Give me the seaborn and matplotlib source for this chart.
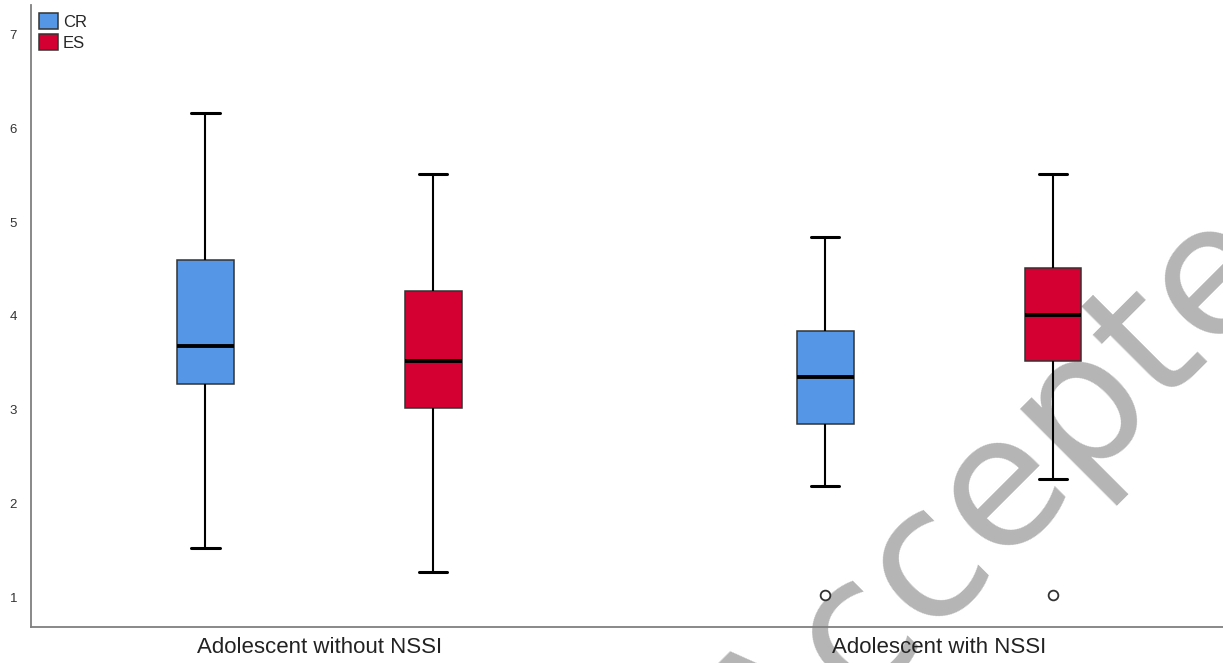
import numpy as np
import pandas as pd
import matplotlib.pyplot as plt
import seaborn as sns

# --- values (five-number summaries + outliers) ---
groups = ["Adolescent without NSSI", "Adolescent with NSSI"]
measures = ["CR", "ES"]

whisker_low = {"CR": [1.52, 2.19], "ES": [1.27, 2.26]}
q1          = {"CR": [3.27, 2.85], "ES": [3.02, 3.52]}
median      = {"CR": [3.68, 3.35], "ES": [3.52, 4.01]}
q3          = {"CR": [4.60, 3.84], "ES": [4.27, 4.51]}
whisker_hi  = {"CR": [6.17, 4.84], "ES": [5.52, 5.52]}
outliers    = {"CR": [[], [1.02]], "ES": [[], [1.02]]}

palette = {"CR": "#5596E6", "ES": "#D50032"}


def sample(lo, a, m, b, hi, out):
    # 9 points -> numpy quartiles land exactly on a, m, b
    pts = [lo, lo, a, a, m, b, b, hi, hi]
    if out:
        pts[0] = out[0]
    return pts


rows = []
for meas in measures:
    for i, g in enumerate(groups):
        vals = sample(whisker_low[meas][i], q1[meas][i], median[meas][i],
                      q3[meas][i], whisker_hi[meas][i], outliers[meas][i])
        rows += [{"group": g, "measure": meas, "score": v} for v in vals]
df = pd.DataFrame(rows)

sns.set_style("white")
plt.rcParams["font.family"] = ["Liberation Sans", "DejaVu Sans"]

fig = plt.figure(figsize=(12.23, 6.63), dpi=100)
ax = fig.add_axes([31 / 1223, 36 / 663, 1 - 31 / 1223, 622 / 663])

# watermark, drawn before the axes so the plot sits on top
fig.text(1037 / 1223, 1 - 460 / 663, "Accepted", fontsize=131, color="#b5b5b5",
         family="DejaVu Sans", rotation=45, rotation_mode="anchor",
         ha="center", va="center", zorder=-1)
ax.patch.set_alpha(0)

sns.boxplot(data=df, x="group", y="score", hue="measure", order=groups,
            hue_order=measures, palette=palette, saturation=1,
            width=0.735, gap=0.75, linecolor="#333333", linewidth=1.1,
            whiskerprops=dict(color="black", linewidth=1.5),
            capprops=dict(color="black", linewidth=2.2),
            medianprops=dict(color="black", linewidth=2.8),
            flierprops=dict(marker="o", markersize=7, markerfacecolor="white",
                            markeredgecolor="#333333", markeredgewidth=1.3),
            ax=ax)

ax.set_xlim(-0.465, 1.458)
ax.set_ylim(0.68, 7.32)
ax.set_yticks([1, 2, 3, 4, 5, 6, 7])
ax.set_xlabel("")
ax.set_ylabel("")
ax.tick_params(axis="y", length=0, labelsize=9.5, labelcolor="#333333", pad=10)
ax.tick_params(axis="x", length=0, labelsize=16, labelcolor="#222222", pad=7)

sns.despine(ax=ax)
for s in ["left", "bottom"]:
    ax.spines[s].set_color("#7f7f7f")
    ax.spines[s].set_linewidth(1.3)

ax.legend(loc="upper left", frameon=False, fontsize=12, handlelength=1.1,
          handleheight=1.1, handletextpad=0.3, labelspacing=0.25,
          borderaxespad=0.2, borderpad=0.3)

plt.savefig("out.png", dpi=100)
